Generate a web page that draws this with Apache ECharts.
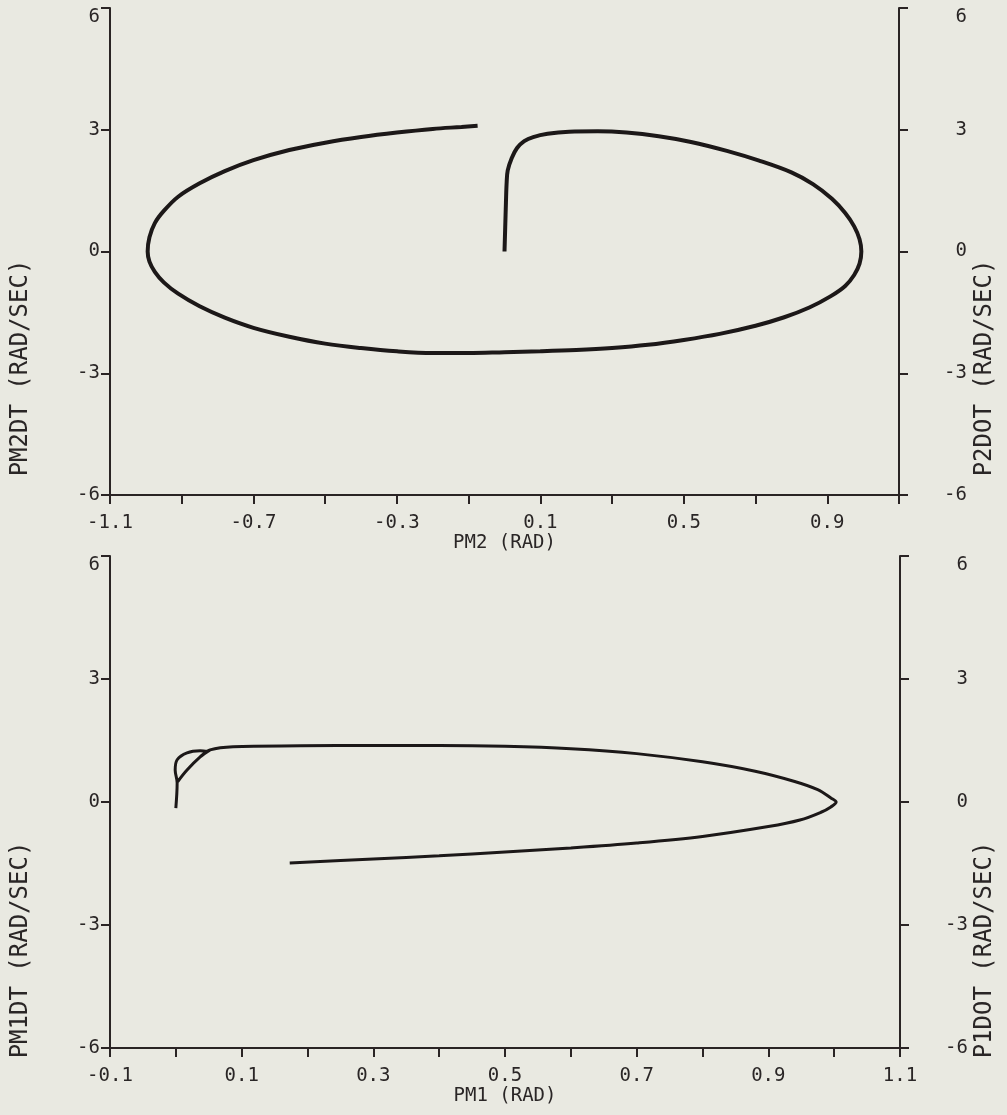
<!DOCTYPE html>
<html><head><meta charset="utf-8">
<script src="https://cdn.jsdelivr.net/npm/echarts@6/dist/echarts.min.js"></script>
<style>html,body{margin:0;padding:0;background:#e9e9e1;}#c{width:1007px;height:1115px;}</style>
</head><body><div id="c"></div>
<script>
// ---- Top plot: PM2 (RAD) vs PM2DT (RAD/SEC)
const pm2 = [0.0,0.002,0.004,0.006,0.009,0.02,0.035,0.055,0.08,0.12,0.18,0.26,
  0.34,0.43,0.52,0.62,0.71,0.8,0.86,0.913,0.95,0.975,0.99,0.995,
  0.99,0.975,0.95,0.91,0.85,0.78,0.7,0.6,0.5,0.4,0.3,0.2,0.1,0.0,-0.1,-0.2,-0.3,-0.4,-0.5,-0.6,-0.7,-0.78,-0.85,-0.91,-0.95,-0.975,-0.99,-0.995,
  -0.99,-0.975,-0.95,-0.91,-0.85,-0.78,-0.7,-0.6,-0.5,-0.4,-0.3,-0.2,-0.12,-0.075];
const pm2dt = [0.0,0.6,1.2,1.7,2.0,2.3,2.55,2.72,2.82,2.9,2.95,2.96,
  2.93,2.84,2.7,2.48,2.24,1.95,1.66,1.3,0.95,0.62,0.3,0.0,
  -0.3,-0.58,-0.85,-1.1,-1.38,-1.62,-1.83,-2.03,-2.18,-2.3,-2.38,-2.43,-2.46,-2.48,-2.5,-2.5,-2.46,-2.38,-2.27,-2.1,-1.88,-1.63,-1.35,-1.04,-0.76,-0.5,-0.25,0.0,
  0.35,0.7,1.0,1.35,1.68,1.98,2.25,2.5,2.68,2.82,2.93,3.02,3.07,3.1];

// ---- Bottom plot: PM1 (RAD) vs PM1DT (RAD/SEC)
const pm1 = [0.0,0.002,-0.001,0.002,0.017,0.037,0.047,0.052,0.037,0.017,0.003,0.017,0.037,0.052,
  0.087,0.19,0.3,0.4,0.5,0.6,0.7,0.8,0.88,0.94,0.975,0.995,1.003,
  0.995,0.98,0.948,0.9,0.8,0.7,0.6,0.5,0.4,0.3,0.173];
const pm1dt = [-0.15,0.47,0.78,1.03,1.2,1.25,1.24,1.27,1.1,0.78,0.5,0.78,1.1,1.27,
  1.35,1.37,1.38,1.38,1.36,1.3,1.18,0.98,0.75,0.5,0.3,0.1,0.0,
  -0.12,-0.25,-0.44,-0.6,-0.84,-1.0,-1.12,-1.22,-1.31,-1.39,-1.49];

// ---- Axis ticks / labels
const topXTicks = [-1.1,-0.9,-0.7,-0.5,-0.3,-0.1,0.1,0.3,0.5,0.7,0.9,1.1];
const topXLabels = [-1.1,-0.7,-0.3,0.1,0.5,0.9];
const botXTicks = [-0.1,0.0,0.1,0.2,0.3,0.4,0.5,0.6,0.7,0.8,0.9,1.0,1.1];
const botXLabels = [-0.1,0.1,0.3,0.5,0.7,0.9,1.1];
const yTicks = [-6,-3,0,3,6];
const axisNames = {
  topX:'PM2 (RAD)', topYL:'PM2DT (RAD/SEC)', topYR:'P2DOT (RAD/SEC)',
  botX:'PM1 (RAD)', botYL:'PM1DT (RAD/SEC)', botYR:'P1DOT (RAD/SEC)'
};

const zip = (a,b) => a.map((v,i)=>[v,b[i]]);
const AX = '#2a2424', TX = '#2a2626', LN = '#1c1818';
const FONT = '"DejaVu Sans Mono","Liberation Mono",monospace';

function xAxis(gi, min, max, ticks, labels, name){
  return {gridIndex:gi, type:'value', min:min, max:max, position:'bottom',
    axisLine:{show:true,onZero:false,lineStyle:{color:AX,width:2}},
    axisTick:{show:true,customValues:ticks,length:9,lineStyle:{color:AX,width:2}},
    axisLabel:{customValues:labels,color:TX,fontFamily:FONT,fontSize:19,margin:19},
    splitLine:{show:false},
    name:name,nameLocation:'middle',nameGap:36,
    nameTextStyle:{color:TX,fontFamily:FONT,fontSize:19}};
}
function yAxis(gi, pos){
  const right = pos==='right';
  return {gridIndex:gi, type:'value', min:-6, max:6, interval:3, position:pos,
    axisLine:{show:true,onZero:false,lineStyle:{color:AX,width:2}},
    axisTick:{show:true,length:9,lineStyle:{color:AX,width:2}},
    axisLabel:{color:TX,fontFamily:FONT,fontSize:19,margin:right?68:10,align:'right',
      customValues:yTicks,verticalAlignMaxLabel:'top'},
    splitLine:{show:false}};
}

const chart = echarts.init(document.getElementById('c'), null, {renderer:'canvas'});
chart.setOption({
  backgroundColor:'#e9e9e1',
  animation:false,
  grid:[
    {left:110,top:8,width:789,height:487},
    {left:110,top:556,width:790,height:492}
  ],
  xAxis:[
    xAxis(0,-1.1,1.1,topXTicks,topXLabels,axisNames.topX),
    xAxis(1,-0.1,1.1,botXTicks,botXLabels,axisNames.botX)
  ],
  yAxis:[
    yAxis(0,'left'), yAxis(0,'right'),
    yAxis(1,'left'), yAxis(1,'right')
  ],
  series:[
    {type:'line',xAxisIndex:0,yAxisIndex:0,data:zip(pm2,pm2dt),showSymbol:false,smooth:0.35,
      lineStyle:{color:LN,width:4},silent:true},
    {type:'line',xAxisIndex:1,yAxisIndex:2,data:zip(pm1,pm1dt),showSymbol:false,smooth:0.35,
      lineStyle:{color:LN,width:3},silent:true}
  ],
  graphic:[
    {type:'text',x:21,y:368,rotation:Math.PI/2,style:{text:axisNames.topYL,fill:TX,font:'24px '+FONT,align:'center',verticalAlign:'middle'}},
    {type:'text',x:985,y:368,rotation:Math.PI/2,style:{text:axisNames.topYR,fill:TX,font:'24px '+FONT,align:'center',verticalAlign:'middle'}},
    {type:'text',x:21,y:950,rotation:Math.PI/2,style:{text:axisNames.botYL,fill:TX,font:'24px '+FONT,align:'center',verticalAlign:'middle'}},
    {type:'text',x:985,y:950,rotation:Math.PI/2,style:{text:axisNames.botYR,fill:TX,font:'24px '+FONT,align:'center',verticalAlign:'middle'}}
  ]
});
</script></body></html>
